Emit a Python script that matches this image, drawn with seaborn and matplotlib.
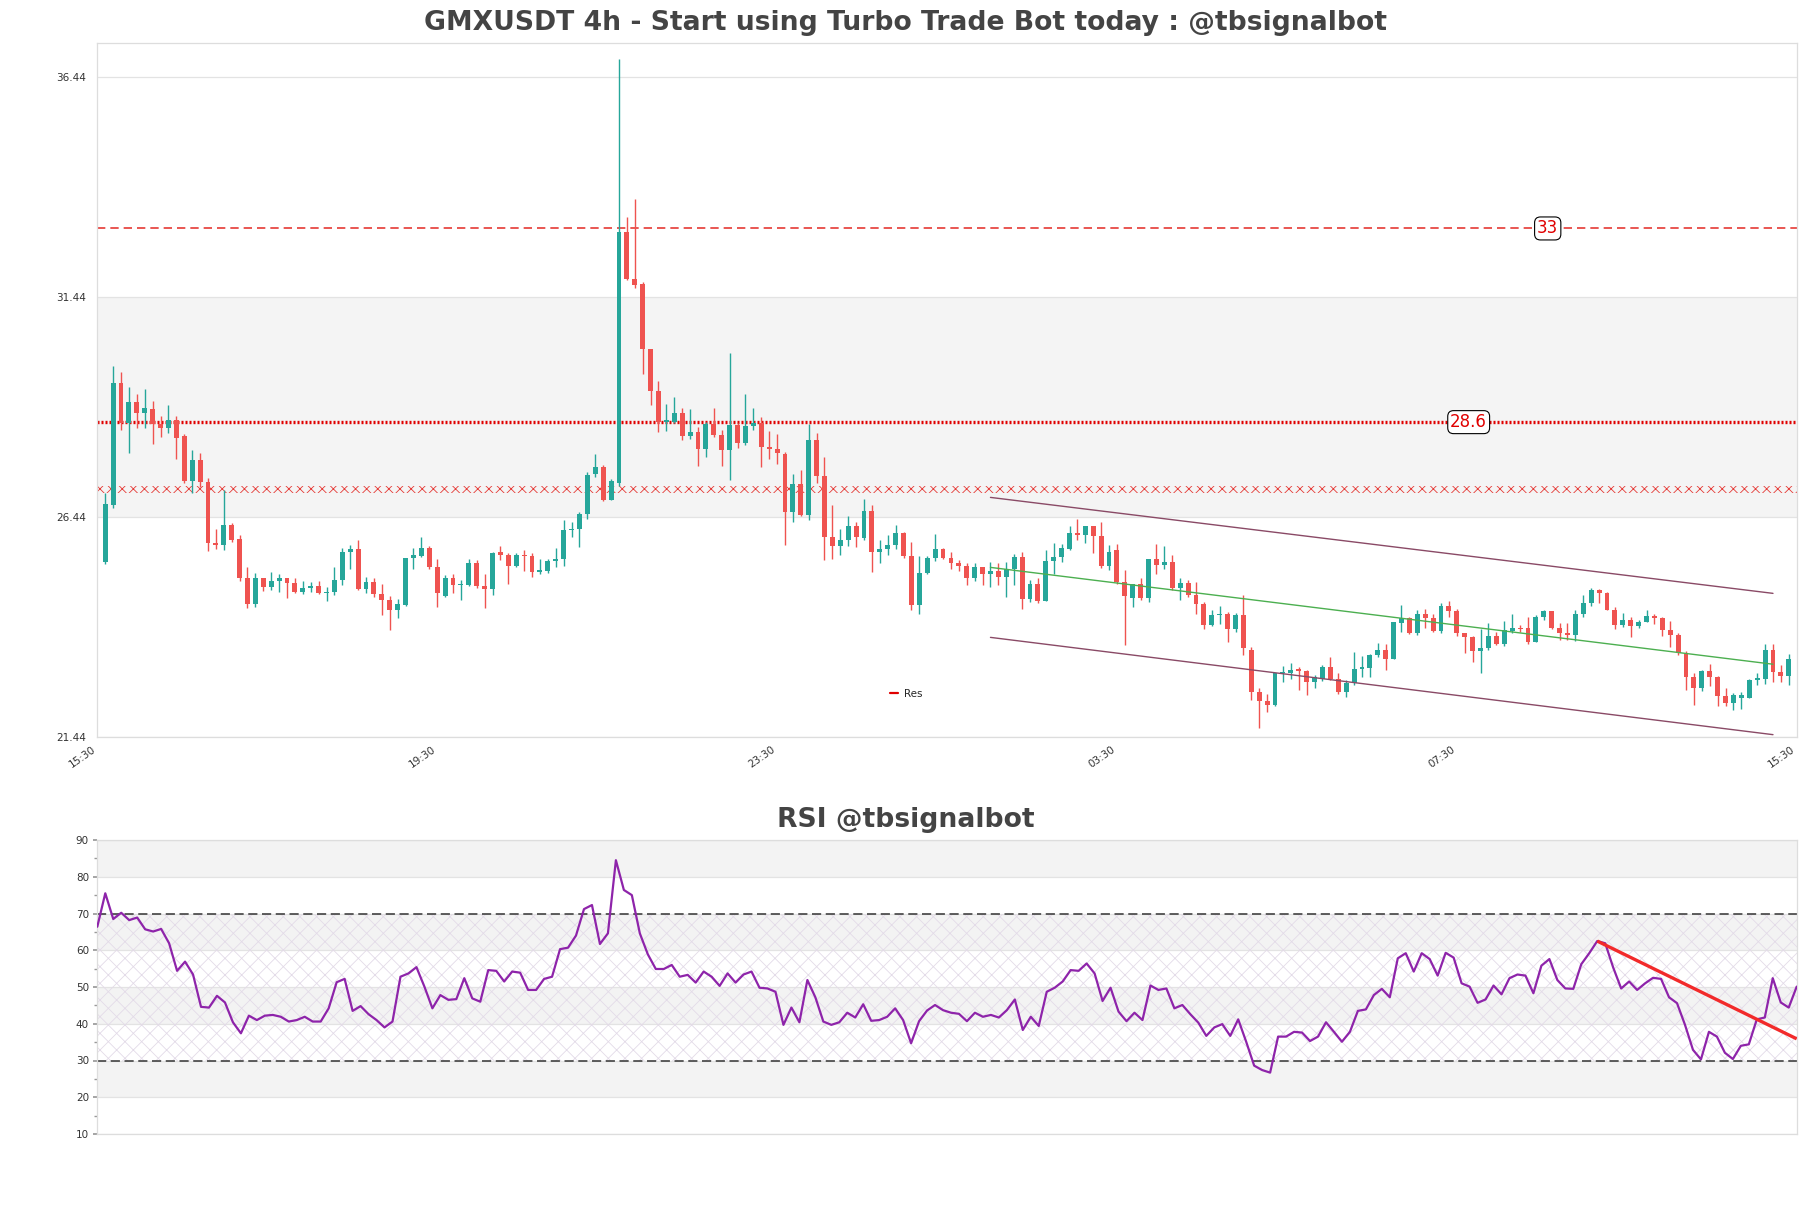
import numpy as np
import pandas as pd
import matplotlib
matplotlib.use("Agg")
import matplotlib.pyplot as plt
import seaborn as sns
from matplotlib.lines import Line2D

# ---------------- data ----------------
opens = [
    25.42, 26.71, 29.48, 28.58, 29.06, 28.80, 28.90, 28.55, 28.47, 28.64,
    28.28, 27.26, 27.74, 27.24, 25.86, 25.80, 26.26, 25.95, 25.07, 24.46,
    25.05, 24.86, 24.99, 25.05, 24.95, 24.74, 24.84, 24.87, 24.71, 24.73,
    25.01, 25.65, 25.71, 24.82, 24.97, 24.69, 24.55, 24.34, 24.44, 25.52,
    25.55, 25.73, 25.30, 24.64, 25.05, 24.89, 24.89, 25.41, 24.87, 24.80,
    25.65, 25.58, 25.33, 25.58, 25.55, 25.20, 25.22, 25.45, 25.49, 26.14,
    26.18, 26.51, 27.42, 27.58, 26.84, 27.21, 32.92, 31.86, 31.74, 30.27,
    29.31, 28.61, 28.61, 28.81, 28.28, 28.38, 27.98, 28.55, 28.30, 27.96,
    28.53, 28.13, 28.51, 28.58, 28.04, 27.98, 27.87, 26.56, 27.19, 26.49,
    28.19, 27.37, 25.98, 25.78, 25.93, 26.24, 25.97, 26.58, 25.65, 25.71,
    25.82, 26.09, 25.55, 24.44, 25.18, 25.51, 25.71, 25.51, 25.40, 25.33,
    25.07, 25.30, 25.14, 25.22, 25.08, 25.27, 25.53, 24.58, 24.92, 24.53,
    25.44, 25.54, 25.72, 26.07, 26.03, 26.24, 26.01, 25.33, 25.69, 24.97,
    24.61, 24.92, 24.61, 25.49, 25.35, 25.42, 24.84, 24.95, 24.67, 24.46,
    24.00, 24.21, 24.24, 23.91, 24.21, 23.43, 22.47, 22.27, 22.18, 22.89,
    22.89, 22.98, 22.95, 22.70, 22.77, 23.04, 22.77, 22.47, 22.67, 23.00,
    23.02, 23.30, 23.42, 23.23, 24.04, 24.16, 23.80, 24.25, 24.15, 23.85,
    24.42, 24.31, 23.80, 23.72, 23.40, 23.46, 23.74, 23.55, 23.86, 23.93,
    23.92, 23.61, 24.17, 24.31, 23.92, 23.80, 23.76, 24.24, 24.48, 24.78,
    24.72, 24.34, 23.99, 24.11, 23.96, 24.06, 24.19, 24.15, 23.87, 23.76,
    23.36, 22.81, 22.57, 22.95, 22.80, 22.37, 22.21, 22.34, 22.34, 22.74,
    22.77, 23.42, 22.92, 22.83]

highs = [
    26.98, 29.87, 29.73, 29.39, 29.25, 29.36, 29.08, 28.74, 28.99, 28.74,
    28.33, 27.96, 27.89, 27.32, 26.18, 27.05, 26.30, 26.03, 25.31, 25.17,
    25.07, 25.20, 25.16, 25.07, 25.05, 24.99, 24.97, 25.00, 24.86, 25.31,
    25.73, 25.80, 25.92, 25.08, 25.05, 24.92, 24.64, 24.59, 25.52, 25.73,
    25.99, 25.78, 25.48, 25.12, 25.14, 25.02, 25.48, 25.46, 25.14, 25.65,
    25.78, 25.63, 25.63, 25.70, 25.63, 25.48, 25.48, 25.75, 26.37, 26.33,
    26.56, 27.47, 27.87, 27.62, 27.30, 36.85, 33.27, 33.68, 31.79, 30.27,
    29.53, 29.01, 29.16, 28.93, 28.89, 28.48, 28.61, 28.91, 28.42, 30.16,
    28.57, 29.24, 28.91, 28.72, 28.40, 28.33, 27.92, 27.43, 27.51, 28.55,
    28.36, 27.81, 26.71, 26.18, 26.46, 26.33, 26.85, 26.71, 25.92, 26.03,
    26.26, 26.11, 25.88, 25.55, 25.55, 26.05, 25.75, 25.64, 25.46, 25.39,
    25.40, 25.31, 25.42, 25.41, 25.42, 25.60, 25.65, 25.02, 25.05, 25.69,
    25.86, 25.84, 26.24, 26.39, 26.25, 26.25, 26.33, 25.80, 25.84, 25.24,
    24.93, 25.05, 25.50, 25.84, 25.78, 25.58, 25.05, 25.01, 24.97, 24.51,
    24.33, 24.42, 24.29, 24.26, 24.67, 23.49, 22.57, 22.42, 22.90, 23.05,
    23.13, 23.04, 22.98, 22.85, 23.08, 23.26, 22.89, 22.74, 23.38, 23.28,
    23.33, 23.58, 23.57, 24.06, 24.44, 24.17, 24.34, 24.36, 24.25, 24.48,
    24.54, 24.36, 23.80, 23.75, 23.91, 24.04, 23.83, 24.08, 24.24, 24.00,
    24.17, 24.21, 24.34, 24.31, 24.04, 24.04, 24.34, 24.67, 24.84, 24.80,
    24.74, 24.39, 24.27, 24.17, 24.11, 24.33, 24.24, 24.17, 24.08, 23.80,
    23.40, 22.90, 22.98, 23.10, 22.83, 22.55, 22.45, 22.47, 22.77, 22.89,
    23.55, 23.55, 23.08, 23.34]

lows = [
    25.38, 26.64, 28.42, 27.90, 28.46, 28.46, 28.11, 28.26, 28.36, 27.77,
    27.21, 27.00, 27.13, 25.67, 25.71, 25.69, 25.88, 24.99, 24.37, 24.39,
    24.77, 24.78, 24.74, 24.61, 24.71, 24.70, 24.74, 24.70, 24.54, 24.67,
    24.89, 25.27, 24.78, 24.71, 24.63, 24.21, 23.87, 24.14, 24.42, 25.27,
    25.54, 25.27, 24.40, 24.63, 24.72, 24.57, 24.87, 24.84, 24.37, 24.67,
    25.46, 24.93, 25.32, 25.22, 25.08, 25.16, 25.18, 25.31, 25.33, 25.98,
    25.76, 26.41, 27.36, 26.81, 26.83, 27.15, 31.83, 31.64, 29.70, 28.99,
    28.38, 28.40, 28.57, 28.19, 28.21, 27.60, 27.81, 28.26, 27.60, 27.28,
    28.02, 28.08, 28.43, 27.58, 27.77, 27.64, 25.80, 26.33, 26.46, 26.37,
    27.21, 25.46, 25.50, 25.58, 25.78, 25.76, 25.93, 25.20, 25.40, 25.58,
    25.71, 25.51, 24.33, 24.25, 25.14, 25.45, 25.48, 25.27, 25.22, 24.91,
    24.98, 24.91, 24.86, 24.91, 24.62, 24.89, 24.35, 24.51, 24.48, 24.53,
    25.14, 25.42, 25.69, 25.93, 25.86, 25.63, 25.29, 25.25, 24.93, 23.53,
    24.39, 24.55, 24.51, 25.16, 25.27, 24.78, 24.57, 24.63, 24.25, 23.91,
    23.96, 24.02, 23.61, 23.83, 23.30, 22.28, 21.66, 22.01, 22.15, 22.70,
    22.77, 22.51, 22.39, 22.55, 22.72, 22.74, 22.43, 22.36, 22.62, 22.80,
    22.80, 23.26, 22.96, 23.23, 23.83, 23.78, 23.76, 23.92, 23.83, 23.81,
    24.17, 23.74, 23.36, 23.15, 22.90, 23.43, 23.53, 23.51, 23.81, 23.83,
    23.55, 23.61, 24.10, 23.91, 23.66, 23.64, 23.63, 24.17, 24.42, 24.49,
    24.33, 23.91, 23.95, 23.72, 23.92, 24.06, 24.01, 23.74, 23.49, 23.30,
    22.51, 22.17, 22.49, 22.60, 22.14, 22.14, 22.07, 22.09, 22.33, 22.62,
    22.66, 22.70, 22.70, 22.62]

closes = [
    26.75, 29.48, 28.58, 29.06, 28.80, 28.91, 28.55, 28.47, 28.64, 28.23,
    27.26, 27.74, 27.24, 25.86, 25.80, 26.26, 25.93, 25.05, 24.46, 25.07,
    24.86, 24.99, 25.05, 24.95, 24.74, 24.84, 24.87, 24.71, 24.73, 25.01,
    25.65, 25.71, 24.82, 24.97, 24.69, 24.55, 24.34, 24.46, 25.52, 25.58,
    25.73, 25.30, 24.72, 25.05, 24.89, 24.92, 25.41, 24.87, 24.80, 25.62,
    25.58, 25.33, 25.58, 25.55, 25.20, 25.22, 25.45, 25.49, 26.14, 26.18,
    26.51, 27.39, 27.58, 26.84, 27.27, 32.92, 31.86, 31.71, 30.27, 29.31,
    28.61, 28.63, 28.81, 28.28, 28.38, 27.98, 28.55, 28.30, 27.96, 28.53,
    28.13, 28.51, 28.58, 28.04, 27.99, 27.89, 26.56, 27.19, 26.49, 28.19,
    27.37, 25.98, 25.78, 25.93, 26.24, 25.99, 26.58, 25.65, 25.71, 25.80,
    26.09, 25.55, 24.44, 25.18, 25.51, 25.71, 25.51, 25.40, 25.33, 25.07,
    25.30, 25.14, 25.22, 25.08, 25.27, 25.53, 24.58, 24.92, 24.53, 25.44,
    25.54, 25.74, 26.07, 26.03, 26.24, 26.01, 25.33, 25.65, 24.97, 24.64,
    24.92, 24.61, 25.49, 25.35, 25.42, 24.84, 24.95, 24.67, 24.46, 24.00,
    24.21, 24.24, 23.91, 24.21, 23.48, 22.47, 22.27, 22.18, 22.89, 22.90,
    22.98, 22.95, 22.70, 22.80, 23.04, 22.77, 22.47, 22.67, 23.00, 23.02,
    23.30, 23.42, 23.23, 24.06, 24.16, 23.80, 24.25, 24.15, 23.85, 24.42,
    24.31, 23.80, 23.72, 23.40, 23.46, 23.74, 23.55, 23.87, 23.93, 23.89,
    23.61, 24.17, 24.31, 23.92, 23.80, 23.76, 24.24, 24.48, 24.78, 24.72,
    24.34, 23.99, 24.11, 23.96, 24.06, 24.19, 24.15, 23.87, 23.76, 23.36,
    22.81, 22.57, 22.95, 22.80, 22.37, 22.21, 22.39, 22.39, 22.74, 22.77,
    23.42, 22.92, 22.83, 23.21]

rsi = [
    66.4, 75.5, 68.5, 70.2, 68.2, 68.9, 65.7, 65.1, 65.8, 61.9,
    54.4, 56.9, 53.4, 44.6, 44.4, 47.6, 45.8, 40.4, 37.4, 42.2,
    41.0, 42.2, 42.4, 41.9, 40.6, 41.0, 41.9, 40.6, 40.6, 44.2,
    51.3, 52.2, 43.5, 44.8, 42.6, 41.0, 39.0, 40.6, 52.8, 53.7,
    55.4, 50.1, 44.2, 47.8, 46.5, 46.7, 52.4, 46.9, 46.0, 54.6,
    54.4, 51.5, 54.2, 53.9, 49.2, 49.2, 52.2, 52.8, 60.3, 60.7,
    64.0, 71.2, 72.3, 61.7, 64.6, 84.5, 76.4, 75.0, 64.6, 58.9,
    54.9, 54.9, 56.0, 52.8, 53.3, 51.2, 54.2, 52.8, 50.3, 53.7,
    51.2, 53.4, 54.2, 49.8, 49.6, 48.7, 39.7, 44.4, 40.4, 51.9,
    47.2, 40.6, 39.7, 40.4, 43.0, 41.7, 45.3, 40.8, 41.0, 41.9,
    44.2, 41.0, 34.7, 40.7, 43.6, 45.1, 43.7, 43.0, 42.7, 40.7,
    43.0, 41.9, 42.4, 41.7, 43.7, 46.6, 38.3, 41.9, 39.4, 48.7,
    49.8, 51.5, 54.6, 54.4, 56.4, 53.7, 46.2, 49.8, 43.3, 40.7,
    43.0, 41.0, 50.4, 49.2, 49.6, 44.2, 45.1, 42.6, 40.3, 36.7,
    39.0, 39.9, 36.7, 41.2, 35.1, 28.6, 27.4, 26.7, 36.5, 36.5,
    37.8, 37.6, 35.3, 36.5, 40.4, 37.8, 35.1, 37.8, 43.5, 43.9,
    47.8, 49.5, 47.2, 57.8, 59.2, 54.2, 59.2, 57.6, 53.1, 59.3,
    58.0, 51.0, 50.1, 45.7, 46.6, 50.4, 48.0, 52.4, 53.4, 53.1,
    48.3, 55.8, 57.6, 51.9, 49.6, 49.5, 56.2, 59.2, 62.5, 61.9,
    55.3, 49.6, 51.5, 49.2, 51.0, 52.5, 52.2, 47.2, 45.6, 39.7,
    32.9, 30.3, 37.8, 36.5, 32.1, 30.4, 34.0, 34.4, 41.2, 41.7,
    52.4, 45.8, 44.4, 50.1]

time_labels = ["15:30", "19:30", "23:30", "03:30", "07:30", "15:30"]
price_ticks = [21.44, 26.44, 31.44, 36.44]
zone_band = [26.44, 31.44]
res_dashed = 33.0
res_dotted = 28.6
res_hatched = [26.99, 27.16]
channel_x = [112, 211]
channel_upper = [26.89, 24.71]
channel_mid = [25.30, 23.10]
channel_lower = [23.71, 21.50]
rsi_trend_x = [188, 213]
rsi_trend_y = [62.5, 35.9]
rsi_ticks = [10, 20, 30, 40, 50, 60, 70, 80, 90]

# ---------------- style ----------------
sns.set_theme(style="white")
plt.rcParams["font.family"] = ["DejaVu Sans"]
plt.rcParams["hatch.linewidth"] = 0.6

UP = "#26a69a"
DOWN = "#ef5350"
GRID = "#e3e3e3"
SPINE = "#dddddd"
TXT = "#444444"

n = len(closes)
idx = np.arange(n)
df = pd.DataFrame({"i": idx, "open": opens, "high": highs, "low": lows,
                   "close": closes, "rsi": rsi})

fig = plt.figure(figsize=(18.11, 12.08), dpi=100)
W, H = 1811.0, 1208.0
ax = fig.add_axes([97.3 / W, 1 - 737.3 / H, (1796.7 - 97.3) / W, (737.3 - 42.7) / H])
ax2 = fig.add_axes([97.3 / W, 1 - 1134 / H, (1796.7 - 97.3) / W, (1134 - 840) / H])

# ---------- main chart ----------
ax.set_xlim(-1, n)
ax.set_ylim(21.44, 37.22)
ax.axhspan(zone_band[0], zone_band[1], color="#f4f4f4", zorder=0, lw=0)
for t in price_ticks:
    ax.axhline(t, color=GRID, lw=0.9, zorder=0.5)

colors = [UP if c >= o else DOWN for o, c in zip(df["open"], df["close"])]
body_bottom = np.minimum(df["open"], df["close"])
body_h = np.maximum(np.abs(df["close"] - df["open"]), 0.04)
ax.vlines(df["i"], df["low"], df["high"], colors=colors, lw=1.0, zorder=3)
ax.bar(df["i"], body_h, bottom=body_bottom, width=0.62, color=colors,
       linewidth=0, zorder=4)

# resistance lines
ax.axhline(res_dashed, color="#e53935", lw=1.2, ls=(0, (5, 3)), zorder=2)
ax.axhline(res_dotted, color="#e00000", lw=2.4, ls=(0, (0.6, 0.6)), zorder=2)
ax.fill_between([-1, n], res_hatched[0], res_hatched[1], facecolor="none",
                edgecolor="#e53935", hatch="xxx", linewidth=0, zorder=2)

ax.text(182.5, res_dashed, "33", color="#e00000", fontsize=12, ha="center",
        va="center", zorder=6,
        bbox=dict(boxstyle="round,pad=0.15,rounding_size=0.35", fc="white",
                  ec="black", lw=0.8))
ax.text(172.5, res_dotted, "28.6", color="#e00000", fontsize=12, ha="center",
        va="center", zorder=6,
        bbox=dict(boxstyle="round,pad=0.15,rounding_size=0.35", fc="white",
                  ec="black", lw=0.8))

# channel
ch = pd.DataFrame({"x": channel_x * 3,
                   "y": channel_upper + channel_mid + channel_lower,
                   "line": ["up"] * 2 + ["mid"] * 2 + ["low"] * 2})
sns.lineplot(data=ch, x="x", y="y", hue="line",
             palette={"up": "#8a4a66", "mid": "#4caf50", "low": "#8a4a66"},
             lw=1.0, ax=ax, legend=False, zorder=5)

ax.set_xlabel("")
ax.set_ylabel("")
ax.set_yticks(price_ticks)
ax.set_yticklabels([f"{t:.2f}" for t in price_ticks])
xt = np.linspace(-1, n, 6)
ax.set_xticks(xt)
ax.set_xticklabels(time_labels, rotation=35, ha="right")
ax.tick_params(axis="y", labelsize=7.5, colors="#333333", length=0, pad=8)
ax.tick_params(axis="x", labelsize=7.5, colors="#333333", length=3,
               color=SPINE, pad=2)
for s in ax.spines.values():
    s.set_color(SPINE)
    s.set_linewidth(0.9)

leg = ax.legend(handles=[Line2D([0], [0], color="#e00000", lw=1.6)],
                labels=["Res"], loc="center", bbox_to_anchor=(0.476, 0.063),
                frameon=False, fontsize=7.5, handlelength=0.8,
                handletextpad=0.6)

fig.text(0.5, 1 - 23 / H, "GMXUSDT 4h - Start using Turbo Trade Bot today : @tbsignalbot",
         ha="center", va="center", fontsize=19.2, fontweight="bold", color=TXT)

# ---------- RSI ----------
ax2.set_xlim(0, n - 1)
ax2.set_ylim(10, 90)
for lo in [20, 40, 60, 80]:
    ax2.axhspan(lo, lo + 10, color="#f3f3f3", lw=0, zorder=0)
for t in rsi_ticks:
    ax2.axhline(t, color=GRID, lw=0.9, zorder=0.5)
ax2.fill_between([0, n - 1], 30, 70, facecolor="none", edgecolor="#e3dbe8",
                 hatch="xx", linewidth=0, zorder=0.6)
ax2.axhline(70, color="#333333", lw=1.1, ls=(0, (6, 3)), zorder=2)
ax2.axhline(30, color="#333333", lw=1.1, ls=(0, (6, 3)), zorder=2)

sns.lineplot(data=df, x="i", y="rsi", color="#8e24aa", lw=1.6, ax=ax2, zorder=4)
ax2.plot(rsi_trend_x, rsi_trend_y, color="#f22a2a", lw=2.4, zorder=5,
         solid_capstyle="butt")

ax2.set_xlabel("")
ax2.set_ylabel("")
ax2.set_xticks([])
ax2.set_yticks(rsi_ticks)
ax2.set_yticks([15, 25, 35, 45, 55, 65, 75, 85], minor=True)
ax2.tick_params(axis="y", which="major", labelsize=7.5, colors="#333333",
                length=3, color="#999999", left=True, pad=3)
ax2.tick_params(axis="y", which="minor", length=2, color="#999999", left=True)
for s in ax2.spines.values():
    s.set_color(SPINE)
    s.set_linewidth(0.9)

fig.text(0.5, 1 - 820 / H, "RSI @tbsignalbot", ha="center", va="center",
         fontsize=19.2, fontweight="bold", color=TXT)

fig.savefig("out.png", dpi=100)
